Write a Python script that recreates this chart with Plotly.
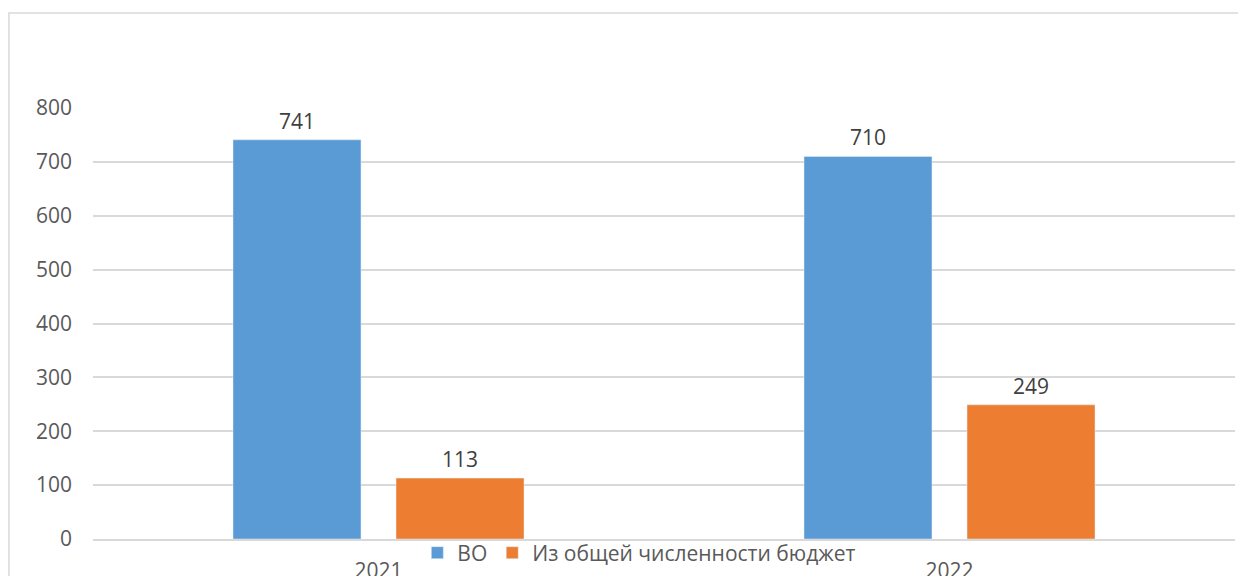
import plotly.graph_objects as go

years = ["2021", "2022"]
vo_values = [741, 710]
budget_values = [113, 249]
series_names = ["ВО", "Из общей численности бюджет"]
y_ticks = [0, 100, 200, 300, 400, 500, 600, 700, 800]

BLUE = "#5B9BD5"
ORANGE = "#ED7D31"
FONT = "Open Sans"

fig = go.Figure()
fig.add_trace(go.Bar(x=years, y=vo_values, name=series_names[0], marker_color=BLUE))
fig.add_trace(go.Bar(x=years, y=budget_values, name=series_names[1], marker_color=ORANGE))

# подписи значений над столбцами (x — индекс категории, иначе "2021" читается как число)
for vals, shift in [(vo_values, -81.5), (budget_values, 81.5)]:
    for i, v in enumerate(vals):
        fig.add_annotation(
            x=i, y=v, text=str(v), showarrow=False,
            xshift=shift, yanchor="bottom", yshift=3,
            font=dict(family=FONT, size=21, color="#404040"),
        )

# рамка диаграммы
fig.add_shape(
    type="rect", xref="paper", yref="paper",
    x0=-0.0736, x1=1.03, y0=-0.2, y1=1.2204,
    line=dict(color="#D9D9D9", width=1.5), layer="below",
)

fig.update_layout(
    width=1238, height=568,
    margin=dict(l=85, r=11, t=100, b=37, autoexpand=False),
    paper_bgcolor="white", plot_bgcolor="white",
    barmode="group", bargap=0.429, bargroupgap=0.215,
    font=dict(family=FONT, size=21, color="#595959"),
    showlegend=True,
    legend=dict(
        orientation="h", x=0.284, y=0.0405, yref="container",
        xanchor="left", yanchor="middle",
        font=dict(family=FONT, size=21, color="#595959"),
        bgcolor="rgba(0,0,0,0)", tracegroupgap=0,
    ),
    xaxis=dict(
        type="category", automargin=False, range=[-0.5, 1.5],
        showgrid=False, showline=True, linecolor="#D9D9D9", linewidth=1.5,
        ticks="", ticklabelstandoff=12,
        tickfont=dict(family=FONT, size=21, color="#595959"),
    ),
    yaxis=dict(
        automargin=False,
        range=[0, 800], tickvals=y_ticks, showgrid=True, gridcolor="#D9D9D9",
        gridwidth=1.5, zeroline=False, showline=False, ticks="",
        ticklabelstandoff=20,
        tickfont=dict(family=FONT, size=21, color="#595959"),
    ),
)

fig.write_html("out.html")
